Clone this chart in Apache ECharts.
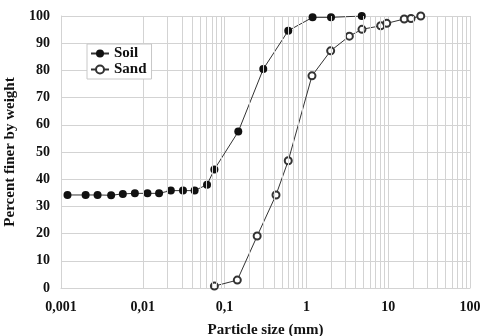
<!DOCTYPE html>
<html>
<head>
<meta charset="utf-8">
<script src="https://cdn.jsdelivr.net/npm/echarts@6/dist/echarts.min.js"></script>
<style>
  html, body { margin: 0; padding: 0; background: #fff; }
  #chart { width: 482px; height: 336px; }
</style>
</head>
<body>
<div id="chart"></div>
<script>
// particle size (mm) and percent finer
const soilSize = [0.0012, 0.002, 0.0028, 0.0041, 0.0057, 0.008, 0.0114, 0.0158, 0.022, 0.031, 0.043, 0.061, 0.075, 0.147, 0.297, 0.6, 1.19, 2.0, 4.75];
const soilFiner = [34.2, 34.2, 34.2, 34.1, 34.6, 34.8, 34.8, 34.8, 35.8, 35.8, 35.8, 38.0, 43.6, 57.5, 80.5, 94.6, 99.5, 99.5, 100];
const sandSize = [0.075, 0.143, 0.25, 0.425, 0.6, 1.17, 1.98, 3.35, 4.78, 8.1, 9.6, 15.7, 19, 25];
const sandFiner = [0.7, 2.9, 19.1, 34.2, 46.8, 78.0, 87.2, 92.6, 95.1, 96.4, 97.3, 98.9, 99.1, 100];

// minor log grid lines (2..9 in each decade)
const minorLines = [];
[0.001, 0.01, 0.1, 1, 10].forEach((decade) => {
  for (let k = 2; k <= 9; k++) minorLines.push(+(decade * k).toPrecision(3));
});

const font = "'Liberation Serif', 'Times New Roman', serif";
const gridColor = "#d3d3d3";
const lineColor = "#333333";

const chart = echarts.init(document.getElementById("chart"), null, { renderer: "canvas" });
chart.setOption({
  animation: false,
  grid: { left: 61, right: 12, top: 16, bottom: 48, outerBoundsMode: "none", containLabel: false },
  legend: {
    orient: "vertical",
    left: 87,
    top: 44,
    padding: [2, 5, 2, 3],
    itemGap: 1,
    itemWidth: 18,
    itemHeight: 10,
    borderColor: "#c8c8c8",
    borderWidth: 1,
    backgroundColor: "#fff",
    z: 10,
    textStyle: { fontFamily: font, fontWeight: "bold", fontSize: 15, color: "#111" },
    data: ["Soil", "Sand"],
  },
  xAxis: {
    type: "log",
    logBase: 10,
    min: 0.001,
    max: 100,
    name: "Particle size (mm)",
    nameLocation: "middle",
    nameGap: 35,
    nameTextStyle: { fontFamily: font, fontWeight: "bold", fontSize: 15, color: "#111" },
    axisLine: { lineStyle: { color: gridColor } },
    axisTick: { show: false },
    axisLabel: {
      fontFamily: font,
      fontWeight: "bold",
      fontSize: 14,
      color: "#111",
      margin: 12,
      formatter: (v) => {
        const p = Math.round(Math.log10(v));
        const s = p < 0 ? (1 / Math.pow(10, -p)).toFixed(-p) : String(Math.pow(10, p));
        return s.replace(".", ",");
      },
    },
    splitLine: { show: true, lineStyle: { color: gridColor } },
  },
  yAxis: {
    type: "value",
    min: 0,
    max: 100,
    interval: 10,
    name: "Percent finer by weight",
    nameLocation: "middle",
    nameGap: 35,
    nameTextStyle: { fontFamily: font, fontWeight: "bold", fontSize: 15, color: "#111" },
    axisLine: { show: true, lineStyle: { color: gridColor } },
    axisTick: { show: false },
    axisLabel: { fontFamily: font, fontWeight: "bold", fontSize: 14, color: "#111", margin: 11 },
    splitLine: { show: true, lineStyle: { color: gridColor } },
  },
  series: [
    {
      name: "minor",
      type: "line",
      data: [],
      silent: true,
      markLine: {
        silent: true,
        symbol: "none",
        label: { show: false },
        lineStyle: { color: gridColor, width: 1, type: "solid" },
        data: minorLines.map((v) => ({ xAxis: v })),
      },
      z: 1,
    },
    {
      name: "Soil",
      type: "line",
      data: soilSize.map((s, i) => [s, soilFiner[i]]),
      symbol: "circle",
      symbolSize: 8,
      itemStyle: { color: "#111" },
      lineStyle: { color: lineColor, width: 1 },
      z: 3,
    },
    {
      name: "Sand",
      type: "line",
      data: sandSize.map((s, i) => [s, sandFiner[i]]),
      symbol: "emptyCircle",
      symbolSize: 7,
      itemStyle: { color: lineColor, borderWidth: 1 },
      lineStyle: { color: lineColor, width: 1 },
      z: 3,
    },
  ],
});
</script>
</body>
</html>
